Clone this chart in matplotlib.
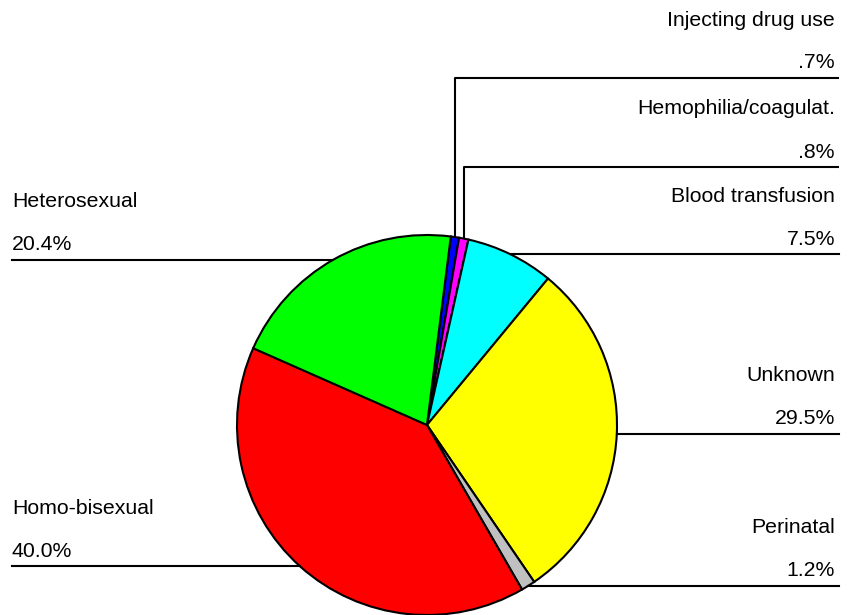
import numpy as np
import matplotlib
matplotlib.use("Agg")
import matplotlib.pyplot as plt

# slices, clockwise from the top
labels = ["Injecting drug use", "Hemophilia/coagulat.", "Blood transfusion",
          "Unknown", "Perinatal", "Homo-bisexual", "Heterosexual"]
values = [0.7, 0.8, 7.5, 29.5, 1.2, 40.0, 20.4]
colors = ["#0000ff", "#ff00ff", "#00ffff", "#ffff00", "#c0c0c0", "#ff0000", "#00ff00"]

# label side and, for the thin slices, the height of the elbow (pixels from top)
sides = ["right", "right", "right", "right", "right", "left", "left"]
elbow_y = [78, 167, None, None, None, None, None]

W, H = 848, 615
fig = plt.figure(figsize=(W / 100, H / 100), dpi=100)
ax = fig.add_axes([0, 0, 1, 1])
ax.set_xlim(0, W)
ax.set_ylim(0, H)
ax.set_aspect("equal")
ax.axis("off")

cx, cy, r = 427, H - 425, 190
wedges, _ = ax.pie(values, colors=colors, startangle=82.8, counterclock=False,
                   center=(cx, cy), radius=r, frame=True,
                   wedgeprops=dict(edgecolor="black", linewidth=1.5))
ax.set_xlim(0, W)
ax.set_ylim(0, H)
ax.axis("off")


def pct(v):
    s = f"{v:.1f}%"
    return s[1:] if s.startswith("0") else s


lw = 1.5
fs = 15.3
for w, lab, v, side, ey in zip(wedges, labels, values, sides, elbow_y):
    ang = np.deg2rad((w.theta1 + w.theta2) / 2)
    px = cx + r * np.cos(ang)
    py = cy + r * np.sin(ang)
    if ey is not None:
        ly = H - ey
        ax.plot([px, px, 839], [py, ly, ly], color="black", lw=lw, solid_capstyle="butt")
    else:
        ly = py
        if side == "right":
            ax.plot([px, 839], [ly, ly], color="black", lw=lw)
        else:
            ax.plot([12, px], [ly, ly], color="black", lw=lw)
    if side == "right":
        tx, ha = 835, "right"
    else:
        tx, ha = 12, "left"
    ax.text(tx, ly + 15, pct(v), ha=ha, va="center", fontsize=fs,
            family="Liberation Sans")
    ax.text(tx, ly + 58, lab, ha=ha, va="center", fontsize=fs,
            family="Liberation Sans")

fig.savefig("out.png", dpi=100)
